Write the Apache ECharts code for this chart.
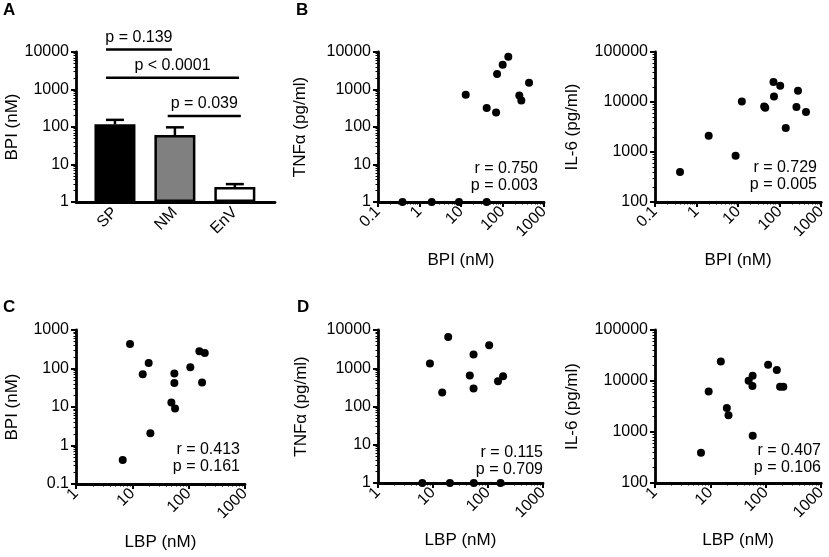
<!DOCTYPE html>
<html>
<head>
<meta charset="utf-8">
<script src="https://cdn.jsdelivr.net/npm/echarts@6/dist/echarts.min.js"></script>
<style>
  html, body { margin: 0; padding: 0; background: #fff; }
  #chart { width: 829px; height: 557px; }
</style>
</head>
<body>
<div id="chart"></div>
<script>
// panel A: BPI by group
const barCats = ['SP', 'NM', 'EnV'];
const barMeans = [118, 61, 2.5];
const barErrTop = [155, 98, 3.0];
const barColors = ['#000000', '#808080', '#ffffff'];

// significance brackets (x in category index units, level in nM)
const sigLabels = ['p = 0.139', 'p < 0.0001', 'p = 0.039'];
const sigFrom = [-0.15, -0.15, 0.88];
const sigTo = [0.95, 2.07, 2.1];
const sigLevel = [11700, 2050, 197];

// panel B: BPI vs TNFa / IL-6
const bpiTnfX = [0.39, 1.97, 8.95, 41.6, 13, 41.6, 70, 74, 101, 138, 254, 284, 436];
const bpiTnfY = [1, 1, 1, 1, 725, 321, 245, 2580, 4600, 7500, 695, 510, 1515];
const bpiIl6X = [0.40, 1.96, 8.7, 12.3, 42.4, 45, 71, 73, 103, 140, 253, 276, 430];
const bpiIl6Y = [398, 2120, 843, 10280, 8170, 7700, 25100, 12900, 21200, 3020, 7940, 16800, 6300];

// panel C: LBP vs BPI
const lbpBpiX = [6.75, 9.1, 15.3, 19.5, 20.9, 49.3, 55.7, 55.7, 57.3, 107, 155, 193, 173];
const lbpBpiY = [0.42, 433, 71, 139, 2.07, 13, 74, 42, 9.1, 107, 280, 253, 43];

// panel D: LBP vs TNFa / IL-6
const lbpTnfX = [6.4, 20.3, 55.2, 169, 8.8, 14.7, 18.9, 46.7, 54.6, 54.6, 105, 152, 188];
const lbpTnfY = [1, 1, 1, 1, 1330, 231, 6520, 644, 2285, 294, 4020, 459, 621];
const lbpIl6X = [6.76, 9.3, 15.4, 19.8, 21.2, 49, 57.8, 57.3, 58, 110, 158, 181, 207];
const lbpIl6Y = [394, 6220, 24200, 2970, 2140, 10100, 12650, 7940, 849, 20800, 16400, 7690, 7690];

// correlation stats per scatter panel (B1, B2, C, D1, D2)
const statR = ['r = 0.750', 'r = 0.729', 'r = 0.413', 'r = 0.115', 'r = 0.407'];
const statP = ['p = 0.003', 'p = 0.005', 'p = 0.161', 'p = 0.709', 'p = 0.106'];

const FONT = '"Liberation Sans", Arial, sans-serif';

function fmt(v) {
  return String(Number(Number(v).toPrecision(6)));
}

function zip(xs, ys) {
  return xs.map((x, i) => [x, ys[i]]);
}

function logAxis(gridIndex, min, max, name, nameGap, isX) {
  return {
    type: 'log',
    logBase: 10,
    gridIndex: gridIndex,
    min: min,
    max: max,
    name: name,
    nameLocation: 'middle',
    nameGap: nameGap,
    nameTextStyle: { fontSize: 17, color: '#000', fontFamily: FONT },
    axisLine: { show: true, onZero: false, lineStyle: { color: '#000', width: 2.8 } },
    axisTick: { show: true, length: 5, lineStyle: { color: '#000', width: 2 } },
    minorTick: { show: true, splitNumber: 9, length: 2.5, lineStyle: { color: '#000', width: 1 } },
    splitLine: { show: false },
    minorSplitLine: { show: false },
    axisLabel: {
      fontSize: 16, color: '#000', fontFamily: FONT, margin: 7,
      rotate: isX ? 45 : 0, formatter: fmt,
      showMinLabel: true, showMaxLabel: true
    }
  };
}

function scatter(gi, xs, ys) {
  return {
    type: 'scatter', xAxisIndex: gi, yAxisIndex: gi,
    data: zip(xs, ys), symbolSize: 8, clip: false,
    itemStyle: { color: '#000', opacity: 1 }, z: 5
  };
}

const chart = echarts.init(document.getElementById('chart'));

const grids = [
  { left: 76, top: 52, width: 199, height: 150 },   // A
  { left: 378, top: 52, width: 166, height: 150 },  // B1
  { left: 655, top: 52, width: 167, height: 150 },  // B2
  { left: 76, top: 330, width: 169, height: 154 },  // C
  { left: 378, top: 330, width: 165, height: 153 }, // D1
  { left: 655, top: 330, width: 167, height: 153 }  // D2
];

const xAxes = [
  {
    type: 'value', gridIndex: 0, min: -0.65, max: 2.67,
    axisLine: { show: true, onZero: false, lineStyle: { color: '#000', width: 2.8 } },
    axisTick: { show: false },
    splitLine: { show: false },
    axisLabel: {
      customValues: [0, 1, 2],
      formatter: v => barCats[Math.round(v)],
      rotate: 45, margin: 8, fontSize: 16, color: '#000', fontFamily: FONT
    }
  },
  logAxis(1, 0.1, 1000, 'BPI (nM)', 50, true),
  logAxis(2, 0.1, 1000, 'BPI (nM)', 50, true),
  logAxis(3, 1, 1000, 'LBP (nM)', 50, true),
  logAxis(4, 1, 1000, 'LBP (nM)', 49, true),
  logAxis(5, 1, 1000, 'LBP (nM)', 49, true)
];

const yAxes = [
  logAxis(0, 1, 10000, 'BPI (nM)', 55, false),
  logAxis(1, 1, 10000, 'TNFα (pg/ml)', 69, false),
  logAxis(2, 100, 100000, 'IL-6 (pg/ml)', 74, false),
  logAxis(3, 0.1, 1000, 'BPI (nM)', 55, false),
  logAxis(4, 1, 10000, 'TNFα (pg/ml)', 68, false),
  logAxis(5, 100, 100000, 'IL-6 (pg/ml)', 74, false)
];

const series = [
  {
    type: 'bar', xAxisIndex: 0, yAxisIndex: 0, barWidth: 41,
    data: barMeans.map((m, i) => ({
      value: [i, m],
      itemStyle: { color: barColors[i], borderColor: '#000', borderWidth: 2.5 }
    }))
  },
  {
    type: 'custom', xAxisIndex: 0, yAxisIndex: 0, z: 4,
    data: barMeans.map((m, i) => [i, m, barErrTop[i]]),
    renderItem: function (params, api) {
      const base = api.coord([api.value(0), api.value(1)]);
      const top = api.coord([api.value(0), api.value(2)]);
      const cap = 18;
      const st = { stroke: '#000', lineWidth: 2.5 };
      return {
        type: 'group',
        children: [
          { type: 'line', shape: { x1: base[0], y1: base[1], x2: top[0], y2: top[1] }, style: st },
          { type: 'line', shape: { x1: top[0] - cap / 2, y1: top[1], x2: top[0] + cap / 2, y2: top[1] }, style: st }
        ]
      };
    }
  },
  {
    type: 'custom', xAxisIndex: 0, yAxisIndex: 0, clip: false,
    data: sigLabels.map((s, i) => [sigFrom[i], sigTo[i], sigLevel[i], i]),
    renderItem: function (params, api) {
      const a = api.coord([api.value(0), api.value(2)]);
      const b = api.coord([api.value(1), api.value(2)]);
      const label = sigLabels[api.value(3)];
      return {
        type: 'group',
        children: [
          { type: 'line', shape: { x1: a[0], y1: a[1], x2: b[0], y2: b[1] },
            style: { stroke: '#000', lineWidth: 2.5 } },
          { type: 'text', style: {
              text: label, x: (a[0] + b[0]) / 2, y: a[1] - 4,
              textAlign: 'center', textVerticalAlign: 'bottom',
              font: '16px ' + FONT, fill: '#000' } }
        ]
      };
    }
  },
  scatter(1, bpiTnfX, bpiTnfY),
  scatter(2, bpiIl6X, bpiIl6Y),
  scatter(3, lbpBpiX, lbpBpiY),
  scatter(4, lbpTnfX, lbpTnfY),
  scatter(5, lbpIl6X, lbpIl6Y)
];

// stat text: right edge x, top of first line y
const statPos = [[538, 160], [817, 159], [240, 441], [543, 444], [821, 442]];
const letters = [['A', 3, 2], ['B', 296, 2], ['C', 3, 299], ['D', 297, 299]];

const graphics = [];
statR.forEach((r, i) => {
  graphics.push({
    type: 'text', x: statPos[i][0], y: statPos[i][1],
    style: { text: r + '\n' + statP[i], textAlign: 'right', textVerticalAlign: 'top',
      font: '16px ' + FONT, fill: '#000', lineHeight: 17 }
  });
});
letters.forEach(l => {
  graphics.push({
    type: 'text', left: l[1], top: l[2],
    style: { text: l[0], font: 'bold 17px ' + FONT, fill: '#000' }
  });
});

chart.setOption({
  backgroundColor: '#fff',
  animation: false,
  textStyle: { fontFamily: FONT },
  grid: grids,
  xAxis: xAxes,
  yAxis: yAxes,
  series: series,
  graphic: graphics
});
</script>
</body>
</html>
